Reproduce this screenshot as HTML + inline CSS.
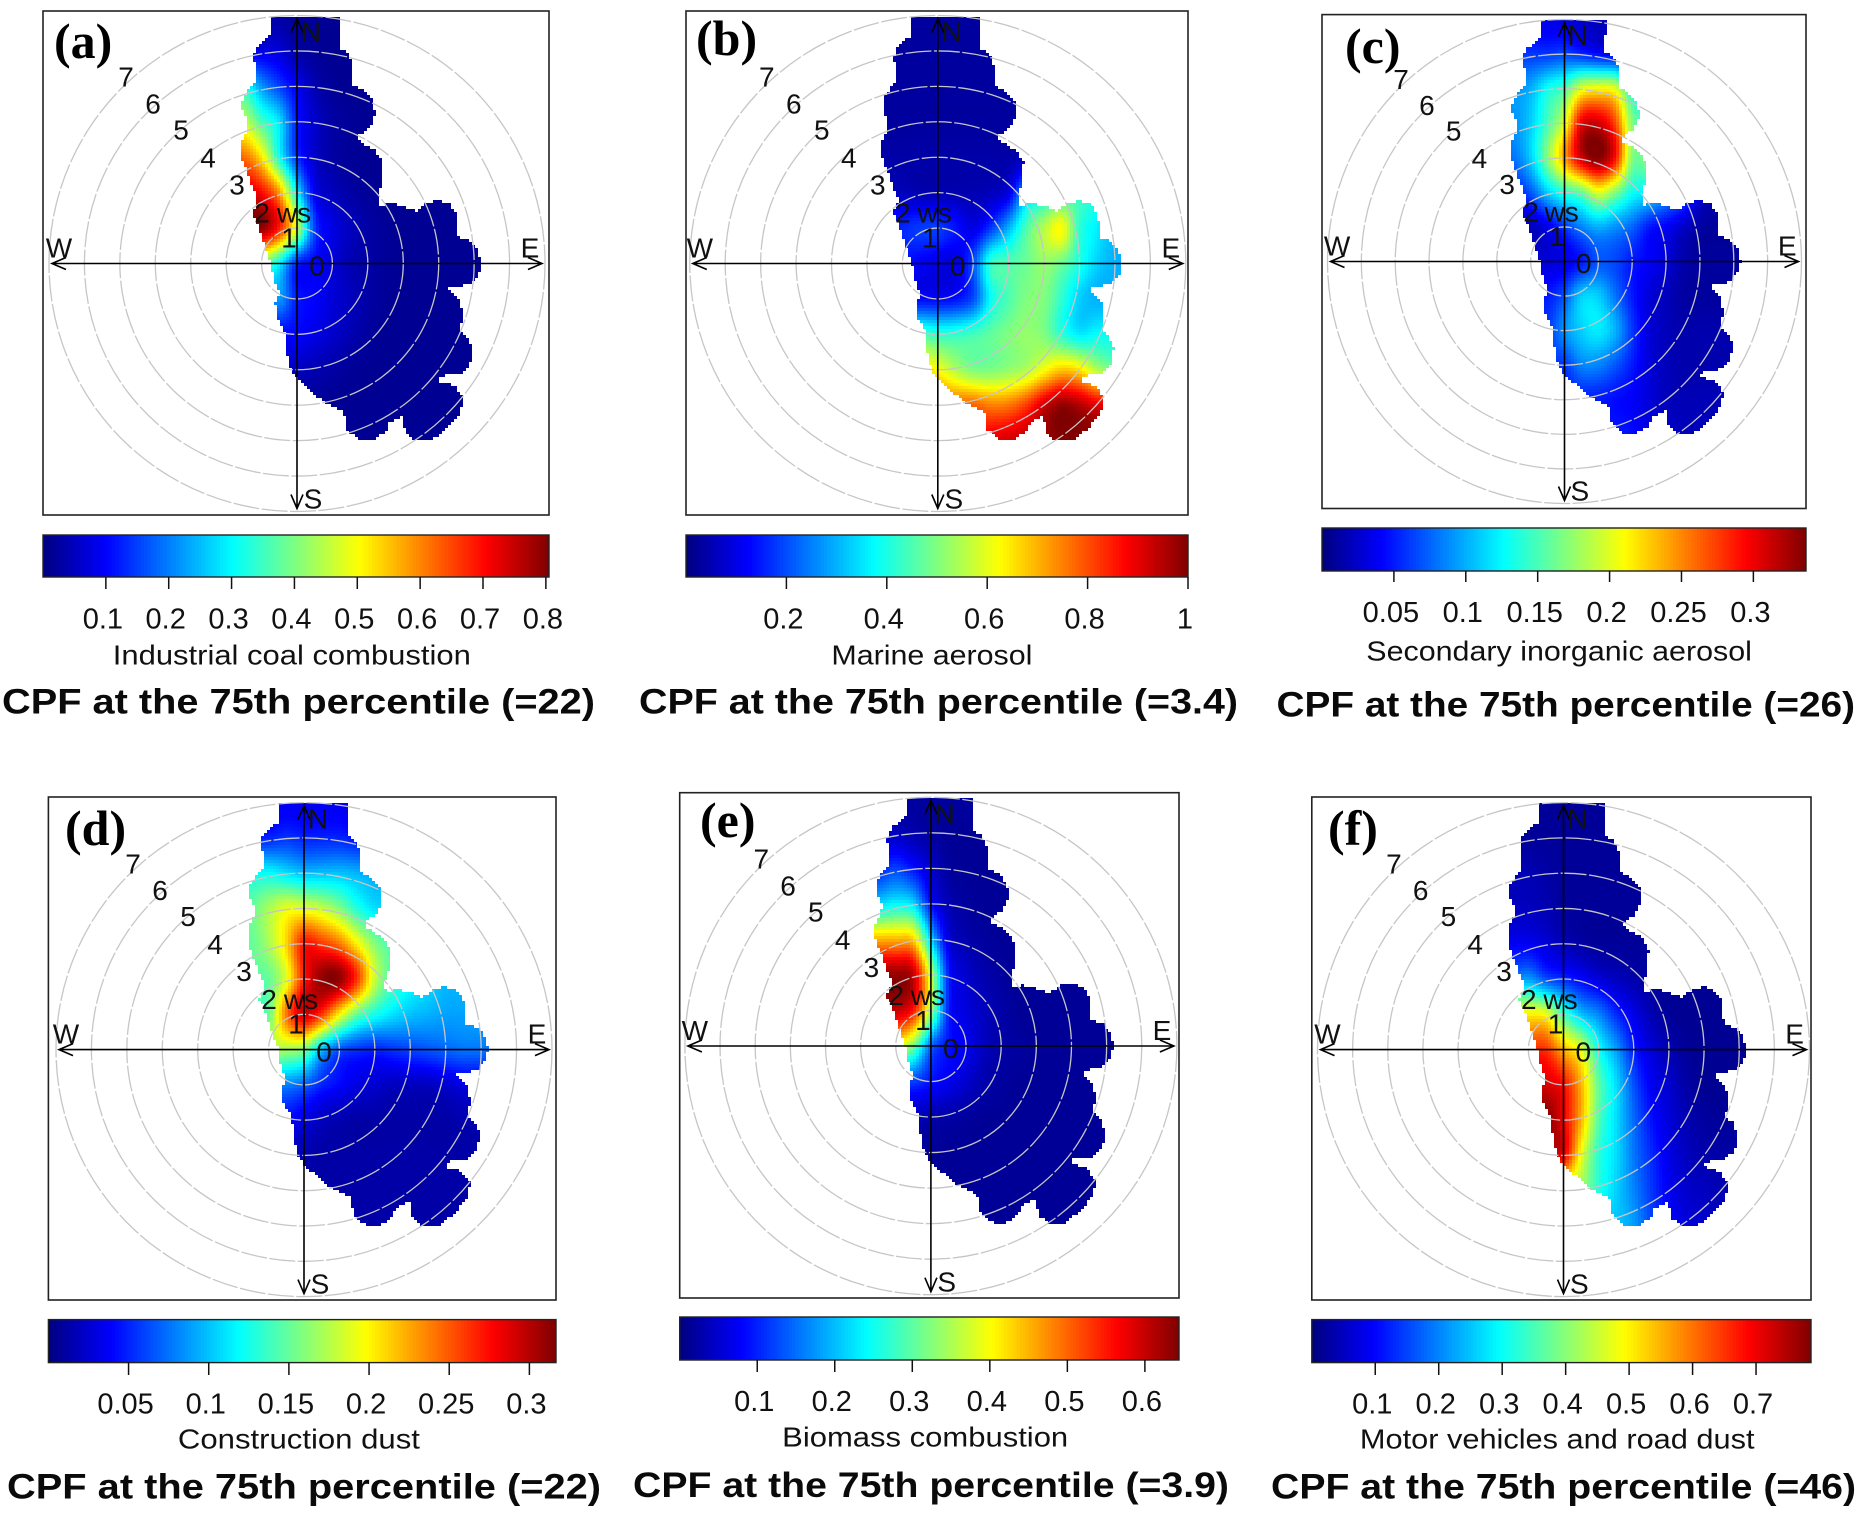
<!DOCTYPE html>
<html lang="en">
<head>
<meta charset="utf-8">
<title>CPF polar plots at the 75th percentile</title>
<style>
html,body{margin:0;padding:0;background:#fff}
svg{display:block}
text{font-family:"Liberation Sans",Arial,sans-serif;fill:#111}
.letter{font-family:"Liberation Serif","Times New Roman",serif;font-weight:bold;font-size:50px;fill:#000}
.title{font-weight:bold;font-size:35px;fill:#0a0a0a}
.axis-label{font-size:28px}
.tick-label{font-size:29px}
.polar-label{font-size:28px}
</style>
</head>
<body>
<svg xmlns="http://www.w3.org/2000/svg" width="1858" height="1526" viewBox="0 0 1858 1526">
  <rect x="0" y="0" width="1858" height="1526" fill="#fff"/>

  <g id="panel-a"></g>
  <g id="panel-b"></g>
  <g id="panel-c"></g>
  <g id="panel-d"></g>
  <g id="panel-e"></g>
  <g id="panel-f"></g>

  <g>
    <text class="letter" x="54" y="58">(a)</text>
    <text class="letter" x="696" y="55">(b)</text>
    <text class="letter" x="1345" y="63">(c)</text>
    <text class="letter" x="65" y="845">(d)</text>
    <text class="letter" x="700" y="837">(e)</text>
    <text class="letter" x="1328" y="845">(f)</text>
  </g>

  <g>
    <text class="axis-label" x="112.8" y="664.5" textLength="358" lengthAdjust="spacingAndGlyphs">Industrial coal combustion</text>
    <text class="axis-label" x="831.4" y="664.5" textLength="201" lengthAdjust="spacingAndGlyphs">Marine aerosol</text>
    <text class="axis-label" x="1366.3" y="660.5" textLength="385.6" lengthAdjust="spacingAndGlyphs">Secondary inorganic aerosol</text>
    <text class="axis-label" x="177.9" y="1448.5" textLength="242" lengthAdjust="spacingAndGlyphs">Construction dust</text>
    <text class="axis-label" x="782.2" y="1446.5" textLength="286" lengthAdjust="spacingAndGlyphs">Biomass combustion</text>
    <text class="axis-label" x="1359.9" y="1448.5" textLength="394.6" lengthAdjust="spacingAndGlyphs">Motor vehicles and road dust</text>
  </g>

  <g>
    <text class="title" x="2" y="713.5" textLength="593" lengthAdjust="spacingAndGlyphs">CPF at the 75th percentile (=22)</text>
    <text class="title" x="639" y="713.5" textLength="599" lengthAdjust="spacingAndGlyphs">CPF at the 75th percentile (=3.4)</text>
    <text class="title" x="1276.5" y="716.5" textLength="578.5" lengthAdjust="spacingAndGlyphs">CPF at the 75th percentile (=26)</text>
    <text class="title" x="7" y="1498.5" textLength="594" lengthAdjust="spacingAndGlyphs">CPF at the 75th percentile (=22)</text>
    <text class="title" x="633" y="1497" textLength="596" lengthAdjust="spacingAndGlyphs">CPF at the 75th percentile (=3.9)</text>
    <text class="title" x="1271" y="1498.5" textLength="585" lengthAdjust="spacingAndGlyphs">CPF at the 75th percentile (=46)</text>
  </g>
</svg>

<script>
// ---- Data ----
// Grid axes, in wind-speed units east (u) and north (v) of the centre.
const gridU = [-2,-1.5,-1,-0.5,0,0.5,1,1.5,2,2.5,3,3.5,4,4.5,5,5.5];
const gridV = [7,6,5,4,3,2,1,0,-1,-2,-3,-4,-5];

// CPF values per panel: one row per gridV entry, one column per gridU entry.
const cpfIndustrialCoal = [
[.03,.03,.03,.03,.02,.02,.015,.015,.015,.015,.015,.015,.015,.015,.015,.015],
[.08,.08,.08,.07,.03,.02,.015,.015,.015,.015,.015,.015,.015,.015,.015,.015],
[.32,.32,.22,.15,.09,.04,.02,.015,.015,.015,.015,.015,.015,.015,.015,.015],
[.46,.46,.36,.28,.12,.06,.03,.02,.015,.015,.015,.015,.015,.015,.015,.015],
[.62,.62,.52,.32,.14,.06,.03,.02,.015,.015,.015,.015,.015,.015,.015,.015],
[.74,.74,.7,.58,.3,.09,.05,.03,.02,.015,.015,.015,.015,.015,.015,.015],
[.8,.8,.79,.68,.46,.15,.08,.05,.03,.02,.015,.015,.015,.015,.015,.015],
[.42,.42,.4,.3,.13,.1,.07,.04,.03,.02,.015,.015,.015,.015,.015,.015],
[.15,.15,.18,.22,.12,.1,.07,.05,.03,.02,.015,.015,.015,.015,.015,.015],
[.1,.1,.1,.1,.1,.08,.06,.04,.025,.015,.015,.015,.015,.015,.015,.015],
[.07,.07,.07,.06,.05,.04,.03,.02,.015,.015,.015,.015,.015,.015,.015,.015],
[.03,.03,.03,.03,.02,.02,.015,.015,.015,.015,.015,.015,.015,.015,.015,.015],
[.02,.02,.02,.02,.015,.015,.015,.015,.015,.015,.015,.015,.015,.015,.015,.015]
];
const cpfMarineAerosol = [
[.03,.03,.03,.03,.03,.03,.03,.03,.03,.03,.03,.03,.03,.03,.03,.03],
[.03,.03,.03,.03,.03,.03,.03,.03,.03,.03,.03,.03,.03,.03,.03,.03],
[.03,.03,.03,.03,.03,.03,.03,.03,.03,.03,.03,.03,.03,.03,.03,.03],
[.03,.03,.03,.03,.03,.03,.03,.03,.03,.03,.03,.03,.03,.03,.03,.03],
[.04,.04,.04,.04,.04,.04,.04,.04,.04,.05,.05,.05,.05,.05,.05,.05],
[.06,.06,.06,.05,.05,.05,.05,.06,.1,.3,.35,.38,.4,.36,.3,.3],
[.16,.16,.16,.18,.18,.14,.1,.18,.3,.45,.55,.62,.42,.36,.3,.3],
[.14,.14,.14,.12,.1,.1,.2,.42,.45,.48,.52,.48,.4,.33,.3,.3],
[.13,.13,.13,.13,.13,.14,.2,.38,.45,.5,.5,.42,.33,.3,.3,.3],
[.45,.45,.45,.45,.42,.42,.44,.47,.5,.52,.5,.42,.36,.38,.38,.38],
[.66,.66,.66,.66,.62,.55,.5,.5,.52,.55,.62,.68,.65,.55,.5,.5],
[.78,.78,.78,.78,.78,.78,.78,.75,.76,.82,.92,.98,.95,.9,.9,.9],
[.87,.87,.87,.87,.87,.87,.87,.9,.92,.94,.97,1,1,1,1,1]
];
const cpfSecondaryInorganic = [
[.035,.035,.035,.035,.03,.025,.02,.02,.02,.02,.02,.02,.02,.02,.02,.02],
[.06,.06,.06,.06,.065,.055,.045,.04,.04,.04,.04,.04,.04,.04,.04,.04],
[.09,.09,.1,.13,.15,.2,.21,.2,.13,.12,.12,.12,.12,.12,.12,.12],
[.09,.09,.11,.15,.2,.3,.31,.27,.17,.15,.15,.15,.15,.15,.15,.15],
[.08,.08,.11,.17,.24,.31,.335,.29,.17,.17,.16,.16,.16,.16,.16,.16],
[.05,.05,.07,.11,.14,.16,.2,.17,.13,.12,.1,.08,.04,.03,.03,.03],
[.02,.02,.02,.035,.06,.085,.1,.09,.075,.05,.04,.025,.012,.01,.01,.01],
[.03,.03,.03,.03,.035,.05,.07,.065,.05,.04,.03,.015,.01,.01,.01,.01],
[.05,.05,.05,.05,.07,.11,.11,.08,.05,.03,.02,.012,.01,.01,.01,.01],
[.06,.06,.06,.06,.09,.11,.12,.1,.06,.03,.02,.015,.015,.015,.015,.015],
[.06,.06,.06,.06,.06,.085,.085,.07,.05,.03,.02,.015,.015,.015,.015,.015],
[.05,.05,.05,.05,.05,.05,.05,.045,.04,.03,.02,.018,.018,.018,.018,.018],
[.05,.05,.05,.05,.05,.05,.05,.05,.045,.03,.025,.02,.02,.02,.02,.02]
];
const cpfConstructionDust = [
[.035,.035,.035,.035,.035,.035,.035,.035,.035,.035,.035,.035,.035,.035,.035,.035],
[.05,.05,.05,.055,.05,.05,.05,.045,.045,.045,.045,.045,.045,.045,.045,.045],
[.12,.12,.12,.11,.1,.1,.1,.095,.09,.09,.09,.09,.09,.09,.09,.09],
[.15,.15,.17,.19,.19,.18,.16,.13,.11,.11,.11,.11,.11,.11,.11,.11],
[.15,.15,.17,.21,.27,.26,.24,.2,.16,.14,.13,.13,.13,.13,.13,.13],
[.15,.15,.15,.19,.27,.31,.31,.26,.18,.14,.12,.11,.1,.1,.1,.1],
[.15,.15,.15,.24,.29,.26,.2,.15,.125,.11,.1,.095,.09,.09,.09,.09],
[.17,.17,.17,.17,.16,.1,.065,.055,.05,.055,.06,.065,.07,.075,.075,.075],
[.08,.08,.08,.08,.07,.05,.04,.03,.025,.02,.02,.02,.025,.03,.03,.03],
[.04,.04,.04,.04,.03,.02,.015,.012,.012,.012,.012,.012,.012,.015,.015,.015],
[.015,.015,.015,.015,.015,.012,.012,.012,.012,.012,.012,.012,.012,.012,.012,.012],
[.012,.012,.012,.012,.012,.012,.012,.012,.012,.012,.012,.012,.012,.012,.012,.012],
[.012,.012,.012,.012,.012,.012,.012,.012,.012,.012,.012,.012,.012,.012,.012,.012]
];
const cpfBiomassCombustion = [
[.02,.02,.02,.02,.02,.02,.02,.02,.02,.02,.02,.02,.02,.02,.02,.02],
[.04,.04,.04,.03,.02,.015,.015,.015,.015,.015,.015,.015,.015,.015,.015,.015],
[.1,.1,.12,.09,.05,.02,.015,.015,.015,.015,.015,.015,.015,.015,.015,.015],
[.22,.22,.24,.22,.09,.035,.02,.015,.015,.015,.015,.015,.015,.015,.015,.015],
[.45,.45,.45,.43,.22,.06,.03,.02,.015,.015,.015,.015,.015,.015,.015,.015],
[.62,.62,.63,.6,.37,.1,.05,.03,.02,.015,.015,.015,.015,.015,.015,.015],
[.6,.6,.6,.55,.35,.1,.06,.04,.025,.015,.015,.015,.015,.015,.015,.015],
[.4,.4,.4,.32,.15,.09,.07,.04,.025,.02,.015,.015,.015,.015,.015,.015],
[.12,.12,.12,.12,.09,.07,.05,.03,.02,.015,.015,.015,.015,.015,.015,.015],
[.04,.04,.04,.04,.03,.025,.02,.015,.015,.015,.015,.015,.015,.015,.015,.015],
[.015,.015,.015,.015,.015,.015,.015,.015,.015,.015,.015,.015,.015,.015,.015,.015],
[.015,.015,.015,.015,.015,.015,.015,.015,.015,.015,.015,.015,.015,.015,.015,.015],
[.015,.015,.015,.015,.015,.015,.015,.015,.015,.015,.015,.015,.015,.015,.015,.015]
];
const cpfMotorVehicles = [
[.02,.02,.02,.02,.02,.02,.02,.02,.02,.02,.02,.02,.02,.02,.02,.02],
[.02,.02,.02,.02,.02,.02,.02,.02,.02,.02,.02,.02,.02,.02,.02,.02],
[.04,.04,.04,.03,.02,.02,.02,.02,.02,.02,.02,.02,.02,.02,.02,.02],
[.05,.05,.05,.04,.025,.02,.02,.02,.02,.02,.02,.02,.02,.02,.02,.02],
[.09,.09,.09,.07,.045,.03,.02,.02,.02,.02,.02,.02,.02,.02,.02,.02],
[.2,.2,.22,.16,.13,.1,.07,.05,.035,.025,.015,.015,.015,.015,.015,.015],
[.5,.5,.5,.48,.35,.25,.2,.13,.08,.04,.02,.015,.015,.015,.015,.015],
[.65,.65,.65,.65,.55,.47,.31,.22,.12,.07,.04,.02,.015,.015,.015,.015],
[.73,.73,.73,.72,.68,.55,.37,.27,.16,.09,.06,.03,.015,.015,.015,.015],
[.78,.78,.78,.78,.7,.55,.36,.27,.18,.11,.07,.04,.025,.02,.02,.02],
[.7,.7,.7,.7,.7,.48,.33,.27,.19,.13,.08,.05,.035,.03,.03,.03],
[.4,.4,.4,.4,.4,.4,.32,.26,.2,.14,.09,.06,.05,.04,.04,.04],
[.25,.25,.25,.25,.25,.25,.25,.25,.22,.15,.1,.07,.06,.05,.05,.05]
];

// Colour-scale maxima and printed ticks.
const scaleMaxA = 0.805;
const scaleMaxB = 1.0;
const scaleMaxC = 0.3366;
const scaleMaxD = 0.3166;
const scaleMaxE = 0.644;
const scaleMaxF = 0.7866;
const ticksA = [0.1,0.2,0.3,0.4,0.5,0.6,0.7,0.8];
const ticksB = [0.2,0.4,0.6,0.8,1];
const ticksC = [0.05,0.1,0.15,0.2,0.25,0.3];
const ticksD = [0.05,0.1,0.15,0.2,0.25,0.3];
const ticksE = [0.1,0.2,0.3,0.4,0.5,0.6];
const ticksF = [0.1,0.2,0.3,0.4,0.5,0.6,0.7];

// Sampled wind-speed / direction footprint (u,v pairs in wind-speed units).
const footprintU = [-.72,1.22,1.2,1.44,1.59,1.59,1.94,2.17,2.2,2.06,1.72,1.72,2.22,2.42,2.41,2.28,2.31,2.61,3,3.36,3.67,4,4.33,4.53,4.56,4.89,5.11,5.2,5.13,4.89,4.28,4.61,4.69,4.61,4.83,4.97,4.89,4.61,4.06,4,4.44,4.69,4.61,4.22,3.78,3.33,3.06,2.98,2.61,2.5,2.11,1.72,1.39,1.33,.78,.28,0,-.17,-.31,-.33,-.59,-.61,-.5,-.67,-.74,-.94,-1.11,-1.26,-1.11,-1.39,-1.59,-1.59,-1.42,-1.39,-1.56,-1.53,-1.33,-1.17,-1.17,-1.26,-1.13,-.72];
const footprintV = [7,7,6.07,5.93,5.59,5.04,4.84,4.56,4.15,3.85,3.6,3.47,3.19,2.85,2.3,1.96,1.62,1.71,1.62,1.48,1.71,1.78,1.66,1.34,.73,.63,.38,0,-.3,-.58,-.71,-1.05,-1.47,-1.88,-2.08,-2.42,-2.84,-3.11,-3.18,-3.32,-3.45,-3.79,-4.21,-4.68,-5,-5,-4.75,-4.32,-4.48,-4.75,-4.99,-4.96,-4.68,-4.21,-3.93,-3.52,-3.25,-3.04,-2.42,-1.95,-1.47,-1.12,-.85,-.37,.04,.59,1.14,1.41,1.79,2.51,3.05,3.4,3.74,4.01,4.36,4.63,4.97,5.11,5.59,5.79,6.14,6.45];

const ringSpeeds = [1,2,3,4,5,6,7];
const speedLabels = ['0','1','2','3','4','5','6','7'];

// ---- Layout ----
const SVG_NS = 'http://www.w3.org/2000/svg';
const panels = [
 {id:'a',grid:cpfIndustrialCoal,max:scaleMaxA,ticks:ticksA,x0:43,x1:549,y0:11,y1:515,cx:297,cy:263.5,rx:248,ry:248,b0:535,b1:577,tickEnd:589,labelY:628.6},
 {id:'b',grid:cpfMarineAerosol,max:scaleMaxB,ticks:ticksB,x0:686,x1:1188,y0:11,y1:515,cx:937.8,cy:263.5,rx:248,ry:248,b0:535,b1:577,tickEnd:589,labelY:628.6},
 {id:'c',grid:cpfSecondaryInorganic,max:scaleMaxC,ticks:ticksC,x0:1322,x1:1806,y0:14.6,y1:508.5,cx:1564.5,cy:261.5,rx:237,ry:242,b0:528,b1:571,tickEnd:582,labelY:622},
 {id:'d',grid:cpfConstructionDust,max:scaleMaxD,ticks:ticksD,x0:48.4,x1:556,y0:797,y1:1300,cx:304,cy:1049.6,rx:248,ry:247,b0:1319.6,b1:1362.6,tickEnd:1375,labelY:1413.6},
 {id:'e',grid:cpfBiomassCombustion,max:scaleMaxE,ticks:ticksE,x0:679.7,x1:1179,y0:792.7,y1:1298,cx:930.9,cy:1046,rx:246,ry:248.7,b0:1317,b1:1360,tickEnd:1372,labelY:1411},
 {id:'f',grid:cpfMotorVehicles,max:scaleMaxF,ticks:ticksF,x0:1311.8,x1:1811,y0:797,y1:1300,cx:1563.5,cy:1049.6,rx:246,ry:247,b0:1319.6,b1:1362.6,tickEnd:1375,labelY:1413.6}
];
// Label offsets from the plot centre, in px at the reference panel scale.
const speedLabelOffset = [[20,12],[-8,-16],[-35,-41],[-60,-69],[-89,-96],[-116,-124],[-144,-150],[-171,-177]];
const CELL = 3;

function svgEl(tag, attrs, parent) {
  const el = document.createElementNS(SVG_NS, tag);
  for (const k in attrs) el.setAttribute(k, attrs[k]);
  parent.appendChild(el);
  return el;
}
function clamp01(x){ return x < 0 ? 0 : x > 1 ? 1 : x; }
function jet(t) {
  t = clamp01(t);
  const r = clamp01(Math.min(4*t-1.5, -4*t+4.5));
  const g = clamp01(Math.min(4*t-0.5, -4*t+3.5));
  const b = clamp01(Math.min(4*t+0.5, -4*t+2.5));
  return 'rgb(' + Math.round(r*255) + ',' + Math.round(g*255) + ',' + Math.round(b*255) + ')';
}
function insideFootprint(u, v) {
  let inside = false;
  for (let i = 0, j = footprintU.length-1; i < footprintU.length; j = i++) {
    const ui = footprintU[i], vi = footprintV[i], uj = footprintU[j], vj = footprintV[j];
    if ((vi > v) !== (vj > v) && u < (uj-ui)*(v-vi)/(vj-vi)+ui) inside = !inside;
  }
  return inside;
}
function catmull(p0,p1,p2,p3,t) {
  return 0.5*((2*p1)+(-p0+p2)*t+(2*p0-5*p1+4*p2-p3)*t*t+(-p0+3*p1-3*p2+p3)*t*t*t);
}
function sampleGrid(grid, u, v) {
  const nx = gridU.length, ny = gridV.length;
  const fx = Math.max(0, Math.min(nx-1.001, (u-gridU[0])/(gridU[1]-gridU[0])));
  const fy = Math.max(0, Math.min(ny-1.001, (gridV[0]-v)/(gridV[0]-gridV[1])));
  const ix = Math.floor(fx), iy = Math.floor(fy), tx = fx-ix, ty = fy-iy;
  const rows = [];
  for (let j = -1; j <= 2; j++) {
    const row = grid[Math.max(0, Math.min(ny-1, iy+j))];
    const c = k => row[Math.max(0, Math.min(nx-1, ix+k))];
    rows.push(catmull(c(-1),c(0),c(1),c(2),tx));
  }
  return catmull(rows[0],rows[1],rows[2],rows[3],ty);
}

function drawPanel(p) {
  const root = document.getElementById('panel-' + p.id);
  const sx = p.rx/7, sy = p.ry/7;
  const xOf = u => p.cx + u*sx;
  const yOf = v => p.cy - v*sy;

  // Heatmap
  const heat = svgEl('g', {'shape-rendering':'crispEdges'}, root);
  
  
  for (let py = Math.floor(p.y0); py < p.y1; py += CELL) {
    for (let px = Math.floor(p.x0); px < p.x1; px += CELL) {
      const u = (px + CELL/2 - p.cx)/sx, v = (p.cy - py - CELL/2)/sy;
      if (!insideFootprint(u, v)) continue;
      const cell = svgEl('rect', {x:px, y:py, width:CELL, height:CELL, fill:jet(sampleGrid(p.grid,u,v)/p.max)}, heat);
      
      
    }
  }

  // Rings
  const rings = svgEl('g', {fill:'none', stroke:'#c6c6c6', 'stroke-width':'1.3', 'stroke-dasharray':'26 2.5'}, root);
  
  
  ringSpeeds.forEach(function(s) {
    const ring = svgEl('ellipse', {cx:xOf(0), cy:yOf(0), rx:s*sx, ry:s*sy}, rings);
    
    
  });

  // Axes with open arrows
  const ex = p.rx-3, ey = p.ry-3, ah = 14, aw = 6;
  const axes = svgEl('path', {
    fill:'none', stroke:'#000', 'stroke-width':'1.6',
    d:'M'+(p.cx-ex)+' '+p.cy+'H'+(p.cx+ex)+
      'M'+p.cx+' '+(p.cy-ey)+'V'+(p.cy+ey)+
      'M'+(p.cx+ex-ah)+' '+(p.cy-aw)+'L'+(p.cx+ex)+' '+p.cy+'L'+(p.cx+ex-ah)+' '+(p.cy+aw)+
      'M'+(p.cx-ex+ah)+' '+(p.cy-aw)+'L'+(p.cx-ex)+' '+p.cy+'L'+(p.cx-ex+ah)+' '+(p.cy+aw)+
      'M'+(p.cx-aw)+' '+(p.cy-ey+ah)+'L'+p.cx+' '+(p.cy-ey)+'L'+(p.cx+aw)+' '+(p.cy-ey+ah)+
      'M'+(p.cx-aw)+' '+(p.cy+ey-ah)+'L'+p.cx+' '+(p.cy+ey)+'L'+(p.cx+aw)+' '+(p.cy+ey-ah)
  }, root);
  
  

  // Polar text
  const kx = p.rx/248, ky = p.ry/248;
  speedLabels.forEach(function(s, i) {
    const t = svgEl('text', {class:'polar-label', x:p.cx+speedLabelOffset[i][0]*kx, y:p.cy+speedLabelOffset[i][1]*ky, 'text-anchor':'middle'}, root);
    t.textContent = s;
    
    
  });
  const compass = [['ws',-3,-41],['N',14,-222],['S',16,245],['W',-238,-6],['E',233,-6]];
  compass.forEach(function(c) {
    const t = svgEl('text', {class:'polar-label', x:p.cx+c[1]*kx, y:p.cy+c[2]*ky, 'text-anchor':'middle'}, root);
    t.textContent = c[0];
    
    
  });

  // Plot frame
  const frame = svgEl('rect', {x:p.x0, y:p.y0, width:p.x1-p.x0, height:p.y1-p.y0, fill:'none', stroke:'#222', 'stroke-width':'1.6'}, root);
  
  

  // Colour bar
  const barX = val => p.x0 + (val/p.max)*(p.x1-p.x0);
  const bar = svgEl('g', {'shape-rendering':'crispEdges'}, root);
  
  
  const steps = 160;
  for (let i = 0; i < steps; i++) {
    const a = p.max*i/steps, b = p.max*(i+1)/steps;
    const slice = svgEl('rect', {x:barX(a), y:p.b0, width:barX(b)-barX(a)+0.6, height:p.b1-p.b0, fill:jet((a+b)/2/p.max)}, bar);
    
    
  }
  const barFrame = svgEl('rect', {x:p.x0, y:p.b0, width:p.x1-p.x0, height:p.b1-p.b0, fill:'none', stroke:'#222', 'stroke-width':'1.4'}, root);
  
  
  p.ticks.forEach(function(val) {
    const tx = barX(val);
    const mark = svgEl('line', {x1:tx, x2:tx, y1:p.b1, y2:p.tickEnd, stroke:'#111', 'stroke-width':'1.5'}, root);
    
    
    const lab = svgEl('text', {class:'tick-label', x:tx-3, y:p.labelY, 'text-anchor':'middle'}, root);
    lab.textContent = String(val);
    
    
  });
}
panels.forEach(drawPanel);
</script>
</body>
</html>
